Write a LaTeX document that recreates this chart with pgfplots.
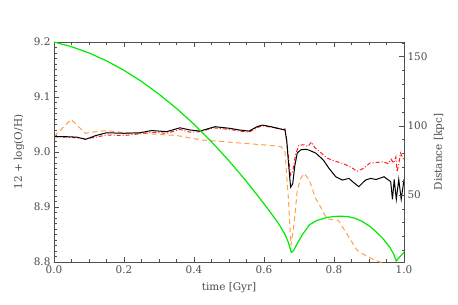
\documentclass[border=0pt]{standalone}
\usepackage{fontspec}
\setmainfont{DejaVu Serif}
\usepackage{pgfplots}
\pgfplotsset{compat=1.18}
\definecolor{axcol}{RGB}{80,80,80}
\definecolor{txtcol}{RGB}{75,75,75}
\definecolor{grn}{RGB}{0,235,0}
\definecolor{org}{RGB}{255,160,70}
\definecolor{rd}{RGB}{255,30,30}
\begin{document}
\begin{tikzpicture}
\path[use as bounding box] (-54bp,-43bp) rectangle (404bp,262bp);
\pgfplotsset{
  common/.style={
    scale only axis, width=350bp, height=220bp,
    xmin=0, xmax=1,
    axis line style={axcol, line width=0.6bp},
    every tick/.style={axcol, line width=0.5bp},
    major tick length=5bp, minor tick length=2.5bp,
    tick label style={font=\fontsize{10.5}{11}\selectfont, text=txtcol},
    label style={font=\fontsize{10.5}{11}\selectfont, text=txtcol},
    /pgf/number format/assume math mode=true,
  }
}
\begin{axis}[common,
  ymin=8.8, ymax=9.2,
  xtick={0,0.2,0.4,0.6,0.8,1.0}, minor x tick num=3,
  xticklabel style={/pgf/number format/.cd, fixed, fixed zerofill, precision=1},
  ytick={8.8,8.9,9.0,9.1,9.2}, minor y tick num=9,
  yticklabel style={/pgf/number format/.cd, fixed, fixed zerofill, precision=1},
  ytick pos=left, xtick pos=both,
  xlabel={time [Gyr]}, ylabel={12 + log(O/H)},
  x label style={at={(axis description cs:0.5,-0.115)}, anchor=center},
  y label style={at={(axis description cs:-0.1,0.5)}, anchor=center, rotate=0},
]
% orange dashed
\addplot[org, line width=1bp, dash pattern=on 5bp off 3.5bp] coordinates {
(0,9.028) (0.049,9.059) (0.09,9.034) (0.12,9.037) (0.15,9.039) (0.2,9.035) (0.25,9.034)
(0.3,9.032) (0.35,9.030) (0.42,9.022) (0.5,9.018) (0.557,9.015) (0.6,9.013) (0.648,9.010)
(0.66,9.0) (0.67,8.913) (0.677,8.83) (0.686,8.87) (0.695,8.930) (0.705,8.952) (0.714,8.961)
(0.729,8.950) (0.748,8.915) (0.762,8.900) (0.779,8.879) (0.795,8.877) (0.812,8.876)
(0.836,8.852) (0.865,8.822) (0.894,8.810) (0.931,8.800) (0.96,8.795)};
% red dash-dot
\addplot[rd, line width=1bp, dash pattern=on 4bp off 2bp on 1bp off 2bp] coordinates {
(0,9.028) (0.065,9.026) (0.09,9.024) (0.12,9.027) (0.15,9.031) (0.2,9.030) (0.245,9.033)
(0.279,9.036) (0.322,9.034) (0.36,9.041) (0.389,9.036) (0.417,9.037) (0.455,9.044) (0.503,9.041)
(0.53,9.038) (0.557,9.036) (0.58,9.044) (0.595,9.048) (0.62,9.045) (0.652,9.042) (0.66,9.042)
(0.665,9.02) (0.67,8.99) (0.676,8.958) (0.682,8.965) (0.69,8.995) (0.70,9.013) (0.715,9.013)
(0.725,9.010) (0.736,9.018) (0.745,9.008) (0.76,9.000) (0.78,8.989) (0.80,8.984) (0.826,8.979)
(0.85,8.972) (0.865,8.965) (0.884,8.970) (0.903,8.980) (0.94,8.982) (0.955,8.979) (0.963,8.987)
(0.97,8.980) (0.977,8.991) (0.98,8.964) (0.985,8.978) (0.99,8.998) (1.0,8.985)};
% black solid
\addplot[black, line width=1bp] coordinates {
(0,9.028) (0.03,9.028) (0.065,9.027) (0.09,9.023) (0.12,9.030) (0.15,9.035) (0.2,9.034)
(0.245,9.035) (0.279,9.039) (0.322,9.037) (0.36,9.044) (0.389,9.040) (0.417,9.038) (0.46,9.046)
(0.503,9.043) (0.53,9.040) (0.557,9.038) (0.58,9.046) (0.595,9.049) (0.62,9.046) (0.652,9.041) (0.66,9.040)
(0.665,9.02) (0.67,8.98) (0.676,8.936) (0.682,8.942) (0.688,8.975) (0.695,8.998) (0.705,9.004)
(0.72,9.005) (0.73,9.003) (0.748,8.998) (0.77,8.985) (0.786,8.970) (0.805,8.955) (0.824,8.949)
(0.843,8.952) (0.855,8.945) (0.871,8.937) (0.89,8.949) (0.905,8.952) (0.92,8.950) (0.943,8.955)
(0.962,8.946) (0.967,8.914) (0.972,8.950) (0.978,8.914) (0.985,8.950) (0.992,8.914) (1.0,8.950)};
\end{axis}
\begin{axis}[common,
  ymin=1.6, ymax=160.6,
  hide x axis,
  ytick={50,100,150}, minor ytick={10,20,...,160},
  ytick pos=right, yticklabel pos=right,
  ylabel={Distance [kpc]},
  y label style={at={(axis description cs:1.1,0.5)}, anchor=center, rotate=0},
]
\addplot[grn, line width=1.2bp] coordinates {
(0,160.6) (0.05,157.2) (0.1,152.7) (0.15,147.0) (0.2,140.1) (0.25,132.1) (0.3,122.9)
(0.35,112.6) (0.4,101.2) (0.45,88.5) (0.5,74.7) (0.55,59.8) (0.6,43.7) (0.64,30.0)
(0.66,21.5) (0.67,15.5) (0.678,8.5) (0.685,10) (0.695,15) (0.71,21.5) (0.73,28.5)
(0.75,31.5) (0.78,33.8) (0.80,34.5) (0.82,34.7) (0.84,34.4) (0.86,33.2) (0.88,31)
(0.9,27.8) (0.92,23.5) (0.94,18.5) (0.96,12) (0.97,7.5) (0.978,2.3) (0.985,4.5) (1.0,8.5)};
\end{axis}
\end{tikzpicture}
\end{document}
